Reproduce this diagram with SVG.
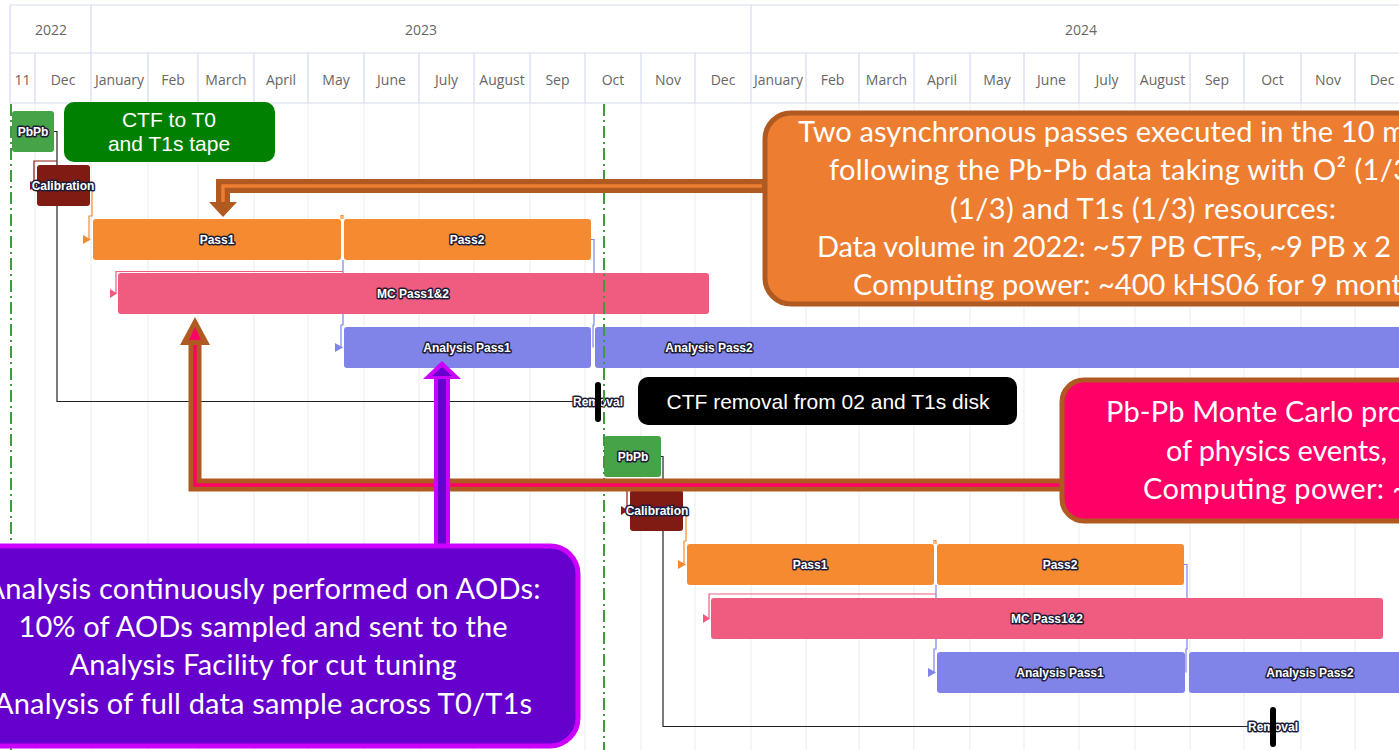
<svg xmlns="http://www.w3.org/2000/svg" width="1399" height="750" viewBox="0 0 1399 750">
<style>
.hl{stroke:#d5dbee;stroke-width:1.2;fill:none}
.gl{stroke:#ebebeb;stroke-width:1;fill:none}
.yl{font-family:"Open Sans",sans-serif;font-size:14px;fill:#666;text-anchor:middle}
.ml{font-family:"Open Sans",sans-serif;font-size:14px;fill:#666;text-anchor:middle}
.bl{font-family:"Liberation Sans",Arial,sans-serif;font-weight:bold;font-size:12px;fill:#fff;stroke:#1d1d3a;stroke-width:3;paint-order:stroke;stroke-linejoin:round;text-anchor:middle}
.c{fill:none;stroke-width:1.2}
.ct{font-family:Lato,"Open Sans",sans-serif;font-size:29px;fill:#fff}
.at{font-family:"Liberation Sans",Arial,sans-serif;font-size:21px;fill:#fff;text-anchor:middle}
.green{stroke:#3d9a3d;stroke-width:2;stroke-dasharray:12 4 2 4;fill:none}
</style>
<rect width="1399" height="750" fill="#fff"/>
<g id="header">
<line class="hl" x1="10" y1="5" x2="1399" y2="5"/>
<line class="hl" x1="10" y1="53" x2="1399" y2="53"/>
<line class="hl" x1="10" y1="103" x2="1399" y2="103"/>
<line class="hl" x1="10" y1="5" x2="10" y2="103"/>
<line class="hl" x1="91" y1="5" x2="91" y2="53"/>
<line class="hl" x1="751" y1="5" x2="751" y2="53"/>
<path class="hl" d="M35,53V103M91,53V103M148,53V103M198,53V103M254,53V103M308,53V103M364,53V103M419,53V103M474,53V103M530,53V103M585,53V103M641,53V103M695,53V103M751,53V103M806,53V103M859,53V103M914,53V103M970,53V103M1024,53V103M1079,53V103M1135,53V103M1190,53V103M1244,53V103M1301,53V103M1355,53V103"/>
<text class="yl" x="51" y="35">2022</text>
<text class="yl" x="421" y="35">2023</text>
<text class="yl" x="1081" y="35">2024</text>
<text class="ml" x="22.5" y="85">11</text>
<text class="ml" x="63" y="85">Dec</text>
<text class="ml" x="119.5" y="85">January</text>
<text class="ml" x="173" y="85">Feb</text>
<text class="ml" x="226" y="85">March</text>
<text class="ml" x="281" y="85">April</text>
<text class="ml" x="336" y="85">May</text>
<text class="ml" x="391.5" y="85">June</text>
<text class="ml" x="446.5" y="85">July</text>
<text class="ml" x="502" y="85">August</text>
<text class="ml" x="557.5" y="85">Sep</text>
<text class="ml" x="613" y="85">Oct</text>
<text class="ml" x="668" y="85">Nov</text>
<text class="ml" x="723" y="85">Dec</text>
<text class="ml" x="778.5" y="85">January</text>
<text class="ml" x="832.5" y="85">Feb</text>
<text class="ml" x="886.5" y="85">March</text>
<text class="ml" x="942" y="85">April</text>
<text class="ml" x="997" y="85">May</text>
<text class="ml" x="1051.5" y="85">June</text>
<text class="ml" x="1107" y="85">July</text>
<text class="ml" x="1162.5" y="85">August</text>
<text class="ml" x="1217" y="85">Sep</text>
<text class="ml" x="1272.5" y="85">Oct</text>
<text class="ml" x="1328" y="85">Nov</text>
<text class="ml" x="1382" y="85">Dec</text>
</g>
<g id="grid">
<path class="gl" d="M35,103V750M91,103V750M148,103V750M198,103V750M254,103V750M308,103V750M364,103V750M419,103V750M474,103V750M530,103V750M585,103V750M641,103V750M695,103V750M751,103V750M806,103V750M859,103V750M914,103V750M970,103V750M1024,103V750M1079,103V750M1135,103V750M1190,103V750M1244,103V750M1301,103V750M1355,103V750"/>
</g>
<g id="connectors">
<path class="c" stroke="#222" d="M54,131.5H57V401.5H597"/>
<path class="c" stroke="#8b1a12" d="M57,161H34V185.5"/>
<polygon fill="#8b1a12" points="30,181 37,185.5 30,190"/>
<path class="c" stroke="#f68a31" d="M90,185.5H92V216H89V239.5"/>
<polygon fill="#f68a31" points="83,235 91,239.5 83,244"/>
<path class="c" stroke="#f68a31" d="M341,219V215.5H343V219"/>
<path class="c" stroke="#8084e8" d="M343,260V325H341V347.5"/>
<polygon fill="#8084e8" points="335,343 343,347.5 335,352"/>
<path class="c" stroke="#f05b80" d="M343,271.5H116V293.5"/>
<polygon fill="#f05b80" points="110,289 117,293.5 110,298"/>
<path class="c" stroke="#8084e8" d="M591,239.5H594V325H593V347.5"/>
<path class="c" stroke="#222" d="M661,456.5H663V726.5H1273"/>
<path class="c" stroke="#8b1a12" d="M663,484H627V510.5"/>
<polygon fill="#8b1a12" points="621,506 628,510.5 621,515"/>
<path class="c" stroke="#f68a31" d="M683,510.5H686V541H684V564.5"/>
<polygon fill="#f68a31" points="678,560 686,564.5 678,569"/>
<path class="c" stroke="#f68a31" d="M934,544V540.5H936V544"/>
<path class="c" stroke="#8084e8" d="M936,585V649H934V672.5"/>
<polygon fill="#8084e8" points="928,668 936,672.5 928,677"/>
<path class="c" stroke="#f05b80" d="M936,594H709V618.5"/>
<polygon fill="#f05b80" points="703,614 710,618.5 703,623"/>
<path class="c" stroke="#8084e8" d="M1184,564.5H1187V649H1186V672.5"/>
</g>
<g id="pbpb1"><rect x="12" y="111" width="42" height="41" rx="3" fill="#47a347"/><text class="bl" x="33" y="135.5">PbPb</text></g>
<g id="cal1"><rect x="37" y="165" width="53" height="41" rx="3" fill="#801b13"/><text class="bl" x="63" y="189.5">Calibration</text></g>
<g id="pass1a"><rect x="93" y="219" width="248" height="41" rx="3" fill="#f68a31"/><text class="bl" x="217" y="243.5">Pass1</text></g>
<g id="pass2a"><rect x="344" y="219" width="247" height="41" rx="3" fill="#f68a31"/><text class="bl" x="467" y="243.5">Pass2</text></g>
<g id="mca"><rect x="118" y="273" width="591" height="41" rx="3" fill="#f05b80"/><text class="bl" x="413" y="297.5">MC Pass1&amp;2</text></g>
<g id="ap1a"><rect x="344" y="327" width="247" height="41" rx="3" fill="#8084e8"/><text class="bl" x="467" y="351.5">Analysis Pass1</text></g>
<g id="ap2a"><rect x="595" y="327" width="830" height="41" rx="3" fill="#8084e8"/><text class="bl" x="709" y="351.5">Analysis Pass2</text></g>
<g id="removal1"><text class="bl" x="598" y="405.5">Removal</text><rect x="595" y="382" width="6" height="40" rx="3" fill="#000"/></g>
<g id="pbpb2"><rect x="604" y="436" width="57" height="41" rx="3" fill="#47a347"/><text class="bl" x="633" y="460.5">PbPb</text></g>
<g id="cal2"><rect x="630" y="490" width="53" height="41" rx="3" fill="#801b13"/><text class="bl" x="657" y="514.5">Calibration</text></g>
<g id="pass1b"><rect x="687" y="544" width="247" height="41" rx="3" fill="#f68a31"/><text class="bl" x="810" y="568.5">Pass1</text></g>
<g id="pass2b"><rect x="937" y="544" width="247" height="41" rx="3" fill="#f68a31"/><text class="bl" x="1060" y="568.5">Pass2</text></g>
<g id="mcb"><rect x="711" y="598" width="672" height="41" rx="3" fill="#f05b80"/><text class="bl" x="1047" y="622.5">MC Pass1&amp;2</text></g>
<g id="ap1b"><rect x="937" y="652" width="248" height="41" rx="3" fill="#8084e8"/><text class="bl" x="1060" y="676.5">Analysis Pass1</text></g>
<g id="ap2b"><rect x="1189" y="652" width="240" height="41" rx="3" fill="#8084e8"/><text class="bl" x="1310" y="676.5">Analysis Pass2</text></g>
<g id="removal2"><text class="bl" x="1273" y="730.5">Removal</text><rect x="1270" y="707" width="6" height="40" rx="3" fill="#000"/></g>
<g id="datalines">
<line class="green" x1="11" y1="104" x2="11" y2="750"/>
<line class="green" x1="604" y1="104" x2="604" y2="750"/>
</g>
<g id="block-arrows">
<path d="M764,186H223V205" fill="none" stroke="#b05a22" stroke-width="14"/>
<path d="M762,186H223V204" fill="none" stroke="#ed7d31" stroke-width="3.5"/>
<polygon points="209,202 237,202 223,217" fill="#b05a22"/>
<path d="M1062,485H195V343" fill="none" stroke="#b05a22" stroke-width="13"/>
<path d="M1060,485H195V341" fill="none" stroke="#ff0066" stroke-width="3.5"/>
<polygon points="180,345 210,345 195,317" fill="#b05a22"/>
<polygon points="189,340 201,340 195,327" fill="#ff0066"/>
<path d="M442,546V376" fill="none" stroke="#cc00ff" stroke-width="16"/>
<path d="M442,546V374" fill="none" stroke="#6600cc" stroke-width="8"/>
<polygon points="423,379 461,379 442,361" fill="#cc00ff"/>
<polygon points="432,376 452,376 442,367" fill="#6600cc"/>
</g>
<g id="ctf-tape">
<rect x="64" y="102" width="211" height="60" rx="10" fill="#008000"/>
<text class="at" x="169" y="127">CTF to T0</text>
<text class="at" x="169" y="151">and T1s tape</text>
</g>
<g id="ctf-removal">
<rect x="638" y="377" width="379" height="48" rx="10" fill="#000"/>
<text class="at" x="828" y="409">CTF removal from 02 and T1s disk</text>
</g>
<g id="async-note">
<rect x="765" y="113" width="700" height="191" rx="26" fill="#ed7d31" stroke="#b05a22" stroke-width="5"/>
<text class="ct" x="798" y="142" textLength="608" lengthAdjust="spacing">Two asynchronous passes executed in the 10 m</text>
<text class="ct" x="829" y="180" textLength="581" lengthAdjust="spacing">following the Pb-Pb data taking with O² (1/3</text>
<text class="ct" x="950" y="219" textLength="386" lengthAdjust="spacing">(1/3) and T1s (1/3) resources:</text>
<text class="ct" x="817" y="257" textLength="574" lengthAdjust="spacing">Data volume in 2022: ~57 PB CTFs, ~9 PB x 2</text>
<text class="ct" x="853" y="295" textLength="549" lengthAdjust="spacing">Computing power: ~400 kHS06 for 9 mont</text>
</g>
<g id="mc-note">
<rect x="1062" y="380" width="400" height="141" rx="22" fill="#ff0066" stroke="#b05a22" stroke-width="5"/>
<text class="ct" x="1106" y="422" textLength="298" lengthAdjust="spacing">Pb-Pb Monte Carlo pro</text>
<text class="ct" x="1166" y="461" textLength="221" lengthAdjust="spacing">of physics events,</text>
<text class="ct" x="1143" y="499" textLength="266" lengthAdjust="spacing">Computing power: ~</text>
</g>
<g id="analysis-note">
<rect x="-40" y="546" width="618" height="200" rx="28" fill="#6600cc" stroke="#cc00ff" stroke-width="5"/>
<text class="ct" x="263" y="599" text-anchor="middle" textLength="555" lengthAdjust="spacing">Analysis continuously performed on AODs:</text>
<text class="ct" x="263" y="637" text-anchor="middle" textLength="489" lengthAdjust="spacing">10% of AODs sampled and sent to the</text>
<text class="ct" x="263" y="675" text-anchor="middle" textLength="387" lengthAdjust="spacing">Analysis Facility for cut tuning</text>
<text class="ct" x="263" y="714" text-anchor="middle" textLength="538" lengthAdjust="spacing">Analysis of full data sample across T0/T1s</text>
</g>
</svg>
